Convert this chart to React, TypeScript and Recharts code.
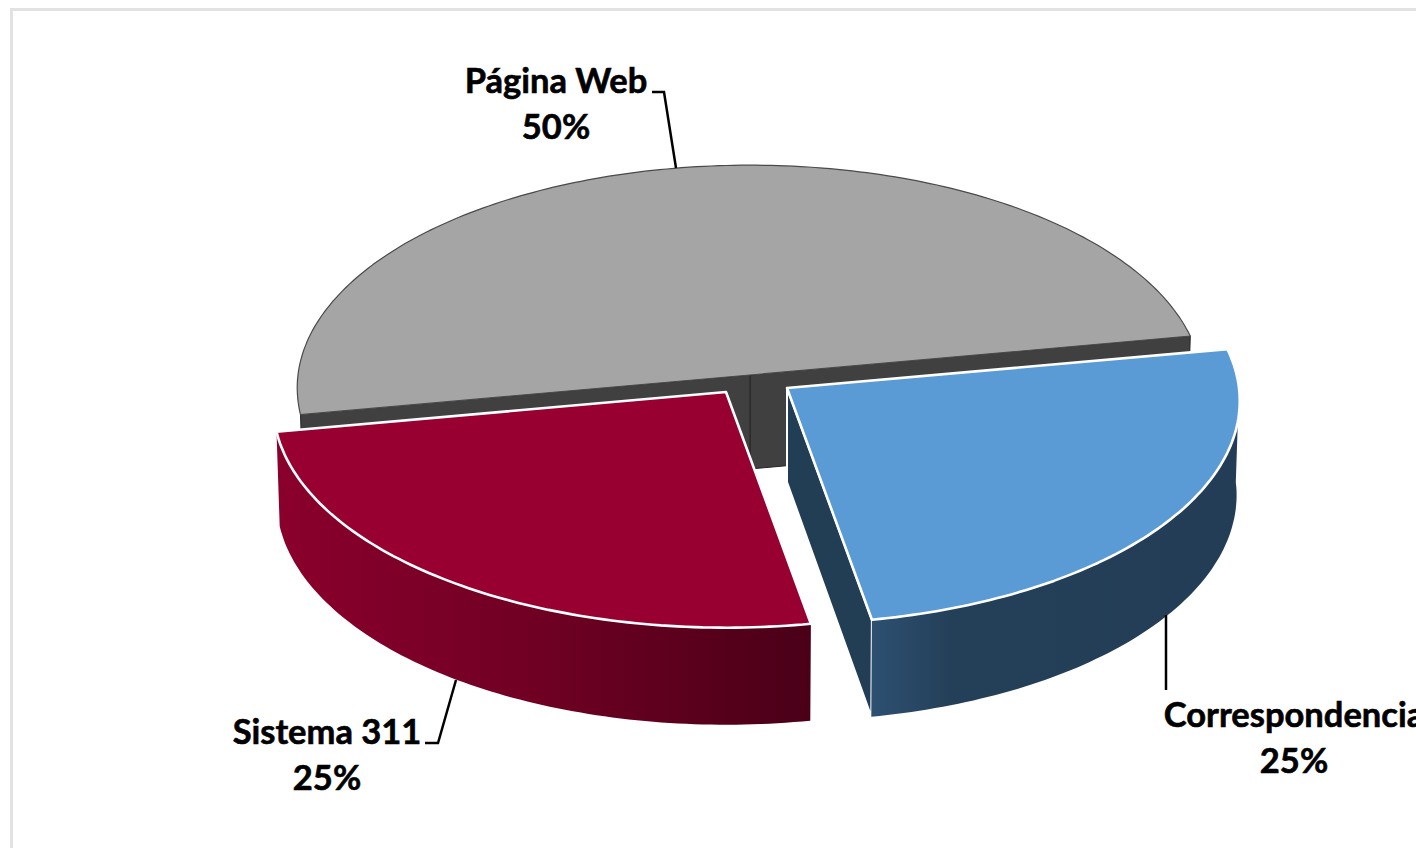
import React from 'react'
import { PieChart, Pie } from 'recharts'

const categories = ['Página Web', 'Sistema 311', 'Correspondencia']
const shares = [50, 25, 25]

const topColors = ['#a5a5a5', '#970030', '#5b9bd5']
const topStrokes = ['#4a4a4a', '#ffffff', '#ffffff']
const faceColors = ['#404040', '#7a0026', '#223e55']
const wallStops = [
    [],
    [['0%', '#8a002c'], ['45%', '#720024'], ['100%', '#4a0018']],
    [['0%', '#2d5071'], ['22%', '#243f58'], ['100%', '#223d55']],
]

// how far each slice is pulled away from the pie centre, in px
const explodeX = [0, -24, 37]
const explodeY = [0, 17, 13]

const labelX = [556, 327, 1294]
const labelY = [93, 744, 727]
const leaders = [
    '652,92 664,92 676,168',
    '425,743 438,743 456,680',
    '1166,615 1166,690',
]

const CX = 750
const CY = 375
const RADIUS = 452
const SQUASH = 222 / 452
const PERSPECTIVE = 0.058
const DEPTH = 94

const table = categories.map((name, i) => ({ name, value: shares[i] }))

// disc angle (recharts degrees) -> offset on the tilted top surface
const project = (deg: number, r: number) => {
    const u = Math.cos((deg * Math.PI) / 180)
    const v = -Math.sin((deg * Math.PI) / 180)
    const s = 1 / (1 - PERSPECTIVE * v)
    return [r * u * s, r * SQUASH * v * s]
}

const sweep = (from: number, to: number) => {
    const out: number[] = []
    const steps = Math.max(1, Math.ceil(Math.abs(to - from)))
    for (let i = 0; i <= steps; i++) out.push(from + ((to - from) * i) / steps)
    return out
}

const pathOf = (pts: number[][]) => 'M' + pts.map((p) => p[0].toFixed(1) + ',' + p[1].toFixed(1)).join('L') + 'Z'

const Slice3D = (props: any) => {
    const { cx, cy, outerRadius, startAngle, endAngle, name } = props
    const i = categories.indexOf(name)
    const ox = cx + explodeX[i]
    const oy = cy + explodeY[i]
    const top = (o: number[]) => [ox + o[0], oy + o[1]]
    const bottom = (o: number[]) => [ox + o[0] * 0.993, oy + DEPTH + o[1] * 1.013]

    const arc = sweep(startAngle, endAngle).map((a) => project(a, outerRadius))
    const first = arc[0]
    const last = arc[arc.length - 1]
    const wallFrom = Math.max(startAngle, 180)
    const wallTo = Math.min(endAngle, 360)
    const wallArc = sweep(wallFrom, wallTo).map((a) => project(a, outerRadius))
    const gradId = 'wall-' + i
    const xs = wallArc.map((p) => ox + p[0])

    return (
        <g>
            {i > 0 && (
                <defs>
                    <linearGradient id={gradId} gradientUnits="userSpaceOnUse" x1={Math.min(...xs)} x2={Math.max(...xs)} y1={0} y2={0}>
                        {wallStops[i].map((s) => (
                            <stop key={s[0]} offset={s[0]} stopColor={s[1]} />
                        ))}
                    </linearGradient>
                </defs>
            )}
            {i === 0 && (
                <>
                    <path d={pathOf([top(first), top([0, 0]), bottom([0, 0]), bottom(first)])} fill={faceColors[0]} stroke="#262626" strokeWidth={1} />
                    <path d={pathOf([top(last), top([0, 0]), bottom([0, 0]), bottom(last)])} fill={faceColors[0]} stroke="#262626" strokeWidth={1} />
                </>
            )}
            {i === 2 && (
                <path d={pathOf([top([0, 0]), top(first), bottom(first), bottom([0, 0])])} fill={faceColors[2]} stroke="#ffffff" strokeWidth={2} />
            )}
            {i > 0 && (
                <path d={pathOf([...wallArc.map(top), ...wallArc.slice().reverse().map(bottom)])} fill={`url(#${gradId})`} />
            )}
            <path
                d={pathOf([top([0, 0]), ...arc.map(top)])}
                fill={topColors[i]}
                stroke={topStrokes[i]}
                strokeWidth={i === 0 ? 1.2 : 2.6}
                strokeLinejoin="round"
            />
        </g>
    )
}

const renderLabel = (props: any) => {
    const i = categories.indexOf(props.name)
    const style = { fontFamily: 'Lato, sans-serif', fontWeight: 700, fontSize: 34.5, fill: '#000', stroke: '#000', strokeWidth: 0.6 }
    return (
        <g key={props.name}>
            <text x={labelX[i]} y={labelY[i]} textAnchor="middle" style={style}>{props.name}</text>
            <text x={labelX[i]} y={labelY[i] + 46} textAnchor="middle" style={style}>{shares[i]}%</text>
        </g>
    )
}

const renderLine = (props: any) => {
    const i = categories.indexOf(props.name)
    return <polyline key={props.name} points={leaders[i]} fill="none" stroke="#000" strokeWidth={2.5} />
}

export default function App() {
    return (
        <div style={{ position: 'absolute', left: 0, top: 0, width: 1416, height: 848, overflow: 'hidden', background: '#fff' }}>
            <div style={{ position: 'absolute', left: 10, top: 8, width: 1420, height: 860, border: '3px solid #e2e2e2', boxSizing: 'border-box' }} />
            <PieChart width={1416} height={848} margin={{ top: 0, right: 0, bottom: 0, left: 0 }} style={{ position: 'absolute', left: 0, top: 0 }}>
                <Pie
                    data={table}
                    dataKey="value"
                    nameKey="name"
                    cx={CX}
                    cy={CY}
                    innerRadius={0}
                    outerRadius={RADIUS}
                    startAngle={10.2}
                    endAngle={370.2}
                    stroke="none"
                    shape={Slice3D}
                    label={renderLabel}
                    labelLine={renderLine}
                    isAnimationActive={false}
                />
            </PieChart>
        </div>
    )
}
